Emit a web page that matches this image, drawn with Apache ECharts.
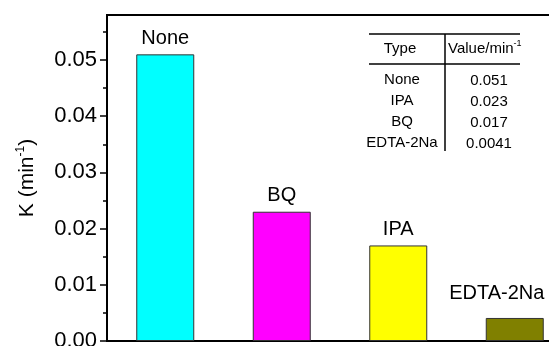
<!DOCTYPE html>
<html>
<head>
<meta charset="utf-8">
<script src="https://cdn.jsdelivr.net/npm/echarts@6/dist/echarts.min.js"></script>
<style>
  html, body { margin: 0; padding: 0; background: #fff; }
  #chart { width: 549px; height: 346px; }
</style>
</head>
<body>
<div id="chart"></div>
<script>
// Rate constants of the scavenger experiments
const categories = ['None', 'BQ', 'IPA', 'EDTA-2Na'];
const rateValues = [0.051, 0.023, 0.017, 0.0041];
const barColors = ['#00FFFF', '#FF00FF', '#FFFF00', '#808000'];

// Y axis ticks
const yMajorTicks = [0, 0.01, 0.02, 0.03, 0.04, 0.05];
const yMinorTicks = [0.005, 0.015, 0.025, 0.035, 0.045, 0.055];
const yMax = 0.058;

// Inset table
const tableHeader = ['Type', 'Value/min'];
const tableTypes = ['None', 'IPA', 'BQ', 'EDTA-2Na'];
const tableValues = ['0.051', '0.023', '0.017', '0.0041'];

const FONT = '"Liberation Sans", Arial, Helvetica, sans-serif';

const chart = echarts.init(document.getElementById('chart'), null, { renderer: 'canvas' });

const barData = rateValues.map((v, i) => {
  const item = {
    value: v,
    itemStyle: { color: barColors[i] }
  };
  if (categories[i] === 'EDTA-2Na') {
    item.label = { offset: [-18, -8] };
  }
  return item;
});

// Inset table drawn as graphic elements
const tableRowY = [80, 101, 122, 143];
const tableGraphics = [
  { type: 'line', shape: { x1: 369, y1: 34, x2: 520, y2: 34 }, style: { stroke: '#000', lineWidth: 1.5 } },
  { type: 'line', shape: { x1: 369, y1: 64, x2: 520, y2: 64 }, style: { stroke: '#000', lineWidth: 1.5 } },
  { type: 'line', shape: { x1: 445, y1: 34, x2: 445, y2: 151 }, style: { stroke: '#000', lineWidth: 1.5 } },
  { type: 'text', x: 400, y: 49, style: { text: tableHeader[0], font: '15px ' + FONT, fill: '#000', align: 'center', verticalAlign: 'middle' } },
  { type: 'text', x: 448, y: 49, style: {
      text: '{n|' + tableHeader[1] + '}{s|-1}',
      fill: '#000', align: 'left', verticalAlign: 'middle',
      rich: {
        n: { fontSize: 15, fontFamily: FONT, fill: '#000' },
        s: { fontSize: 9, fontFamily: FONT, fill: '#000', verticalAlign: 'top', padding: [0, 0, 10, 0] }
      }
  } }
];
tableTypes.forEach((t, i) => {
  tableGraphics.push({ type: 'text', x: 402, y: tableRowY[i], style: { text: t, font: '15px ' + FONT, fill: '#000', align: 'center', verticalAlign: 'middle' } });
  tableGraphics.push({ type: 'text', x: 489, y: tableRowY[i] + 1, style: { text: tableValues[i], font: '15px ' + FONT, fill: '#000', align: 'center', verticalAlign: 'middle' } });
});

const option = {
  animation: false,
  backgroundColor: '#fff',
  grid: {
    left: 107, top: 15, width: 466, height: 326,
    outerBoundsMode: 'none',
    containLabel: false,
    show: true, borderColor: '#000', borderWidth: 2, backgroundColor: 'transparent'
  },
  xAxis: {
    type: 'category',
    data: categories,
    axisLine: { show: true, lineStyle: { color: '#000', width: 2 } },
    axisTick: { show: false },
    axisLabel: { show: false },
    splitLine: { show: false }
  },
  yAxis: [
    {
      type: 'value',
      min: 0, max: yMax, interval: 0.01,
      name: '{t|K (min}{s|-1}{t|)}',
      nameLocation: 'middle',
      nameGap: 68,
      nameTextStyle: {
        rich: {
          t: { fontSize: 21, fontFamily: FONT, color: '#000' },
          s: { fontSize: 12, fontFamily: FONT, color: '#000', verticalAlign: 'top', padding: [0, 0, 12, 0] }
        }
      },
      axisLine: { show: true, lineStyle: { color: '#000', width: 2 } },
      axisTick: { show: true, inside: false, length: 7, customValues: yMajorTicks, lineStyle: { color: '#000', width: 1.5 } },
      axisLabel: {
        customValues: yMajorTicks,
        margin: 10,
        fontSize: 22, fontFamily: FONT, color: '#000',
        formatter: v => v.toFixed(2)
      },
      splitLine: { show: false }
    },
    {
      type: 'value',
      min: 0, max: yMax,
      position: 'left',
      axisLine: { show: false },
      axisTick: { show: true, inside: false, length: 4, customValues: yMinorTicks, lineStyle: { color: '#000', width: 1.5 } },
      axisLabel: { show: false },
      splitLine: { show: false }
    }
  ],
  series: [{
    type: 'bar',
    data: barData,
    barWidth: 58,
    itemStyle: { borderColor: '#333', borderWidth: 1 },
    label: {
      show: true,
      position: 'top',
      distance: 6,
      formatter: p => p.name,
      fontSize: 20, fontFamily: FONT, color: '#000'
    }
  }],
  graphic: tableGraphics
};

chart.setOption(option);
</script>
</body>
</html>
